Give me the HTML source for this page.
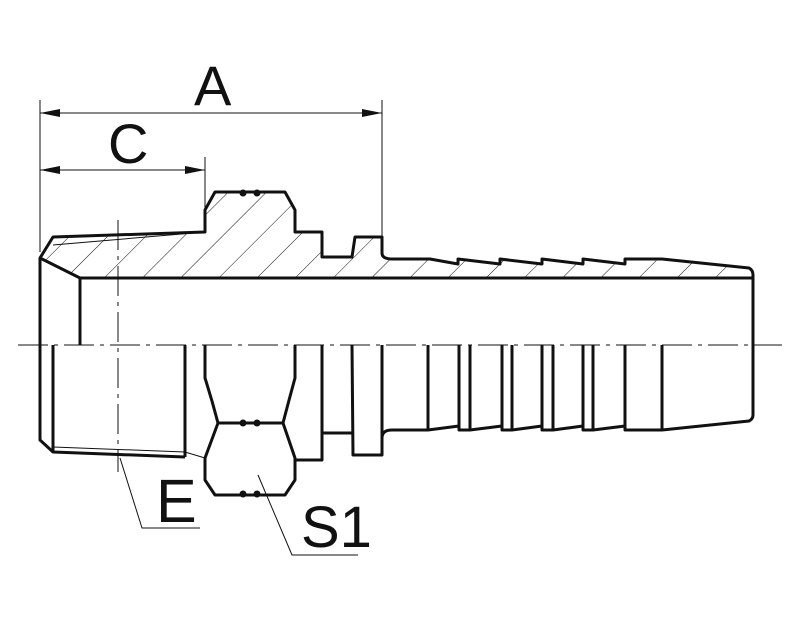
<!DOCTYPE html>
<html><head><style>html,body{margin:0;padding:0;background:#fff;}svg{display:block}</style></head>
<body>
<svg width="787" height="630" viewBox="0 0 787 630" xmlns="http://www.w3.org/2000/svg">
<defs>
<pattern id="h" patternUnits="userSpaceOnUse" width="27" height="27" patternTransform="rotate(45)">
<line x1="0" y1="0" x2="0" y2="27" stroke="#111" stroke-width="1"/>
</pattern>
</defs>
<g fill="none" stroke="#111" stroke-linejoin="round">
<path d="M40,258 L53,237 L205,232 L205,210 L215,192 L285,192 L295,210 L295,232 L322,232 L322,257 L352,257 L355,237 L382,237 L382,253 Q382,259 392,259 L430,259 L458,264 L458,259 L500,264 L500,259 L542,264 L542,259 L583,264 L583,259 L625,264 L625,259 L662,259 L749,268 Q753,270 753,275 L753,278 L80,278 Z" fill="url(#h)" stroke-width="3"/>
<line x1="53" y1="245" x2="205" y2="232" stroke-width="1"/>
<path d="M40,258 L40,440 L53,452 L185,457" stroke-width="3"/>
<line x1="53" y1="447" x2="185" y2="452" stroke-width="1"/>
<line x1="80" y1="278" x2="80" y2="345" stroke-width="3"/>
<line x1="53" y1="345" x2="53" y2="452" stroke-width="3"/>
<line x1="185" y1="345" x2="185" y2="457" stroke-width="3"/>
<line x1="185" y1="452" x2="205" y2="458" stroke-width="1"/>
<path d="M205,345 L205,378 Q212,400 218,423 L205,458 L205,480 L215,495 L285,495 L295,480 L295,458 L283,423 Q289,400 295,378 L295,345" stroke-width="3"/>
<line x1="218" y1="423" x2="283" y2="423" stroke-width="3"/>
<circle cx="243" cy="423" r="3" fill="#111"/><circle cx="257" cy="423" r="3" fill="#111"/>
<circle cx="243" cy="494" r="3" fill="#111"/><circle cx="257" cy="494" r="3" fill="#111"/>
<circle cx="243" cy="193" r="3" fill="#111"/><circle cx="257" cy="193" r="3" fill="#111"/>
<path d="M295,460 L322,460 L322,345" stroke-width="3"/>
<line x1="322" y1="433" x2="352" y2="433" stroke-width="3"/>
<path d="M352,345 L353,455 L382,455 L382,438 Q382,430 392,430 L428,430 L459,426 L459,430 L470,430 L502,426 L502,430 L512,430 L542,426 L542,430 L553,430 L583,426 L583,430 L593,430 L625,426 L625,430 L662,430 L749,421 Q753,419 753,415 L753,275" stroke-width="3"/>
<line x1="382" y1="345" x2="382" y2="438" stroke-width="3"/>
<g stroke-width="3">
<line x1="428" y1="345" x2="428" y2="430"/><line x1="459" y1="345" x2="459" y2="430"/>
<line x1="470" y1="345" x2="470" y2="430"/><line x1="502" y1="345" x2="502" y2="430"/>
<line x1="512" y1="345" x2="512" y2="430"/><line x1="542" y1="345" x2="542" y2="430"/>
<line x1="553" y1="345" x2="553" y2="430"/><line x1="583" y1="345" x2="583" y2="430"/>
<line x1="593" y1="345" x2="593" y2="430"/><line x1="625" y1="345" x2="625" y2="430"/>
<line x1="662" y1="345" x2="662" y2="430"/>
</g>
<line x1="18" y1="345" x2="782" y2="345" stroke-width="1" stroke-dasharray="30,6,4,6"/>
<line x1="118" y1="220" x2="118" y2="472" stroke-width="1" stroke-dasharray="30,6,4,6"/>
<g stroke-width="1">
<line x1="40" y1="100" x2="40" y2="252"/>
<line x1="382" y1="100" x2="382" y2="237"/>
<line x1="205" y1="157" x2="205" y2="210"/>
<line x1="40" y1="113" x2="382" y2="113"/>
<line x1="40" y1="170" x2="205" y2="170"/>
<polyline points="120,458 142,528 200,528"/>
<polyline points="258,475 292,555 358,555"/>
</g>
</g>
<path d="M40,113 l20,-4 v8 z M382,113 l-20,-4 v8 z M40,170 l20,-4 v8 z M205,170 l-20,-4 v8 z" fill="#111"/>
<g font-family="Liberation Sans, sans-serif" fill="#111">
<text x="194" y="105" font-size="56">A</text>
<text x="108" y="163" font-size="56">C</text>
<text x="156" y="522" font-size="61">E</text>
<text x="301" y="547" font-size="58">S1</text>
</g>
</svg>
</body></html>
